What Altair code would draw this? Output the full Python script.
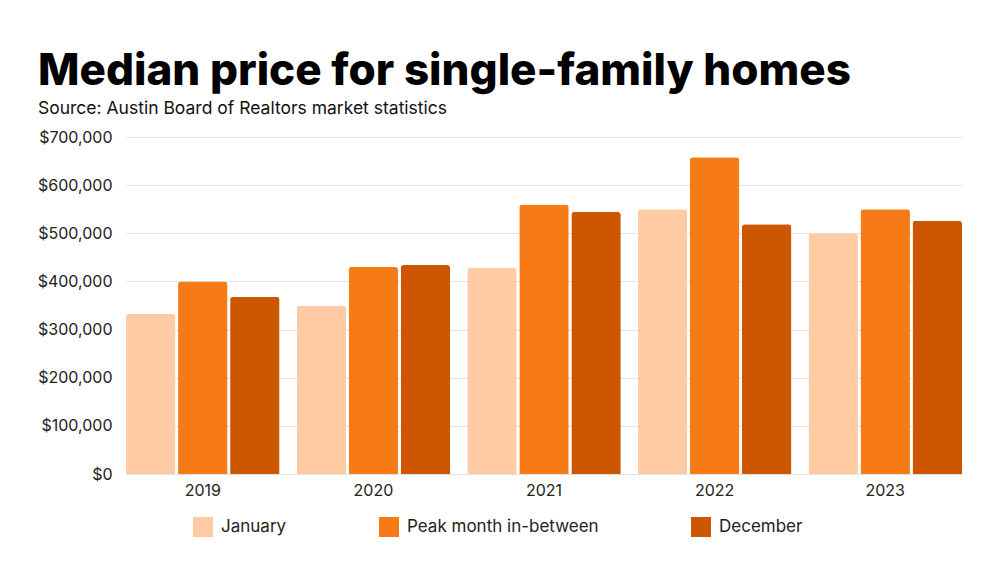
import altair as alt
import pandas as pd

years = ["2019", "2020", "2021", "2022", "2023"]
series = ["January", "Peak month in-between", "December"]
january = [333000, 350000, 428000, 550000, 500000]
peak = [400000, 430000, 560000, 658000, 550000]
december = [368000, 434000, 544000, 519000, 526000]
colors = ["#FFCBA4", "#F67A15", "#CD5700"]

rows = []
for name, vals in zip(series, [january, peak, december]):
    for y, v in zip(years, vals):
        rows.append({"year": y, "series": name, "price": v})
df = pd.DataFrame(rows)

FONT = "Inter"

chart = alt.Chart(df).mark_bar(
    cornerRadiusTopLeft=3, cornerRadiusTopRight=3
).encode(
    x=alt.X("year:N", sort=years, title=None,
            scale=alt.Scale(paddingInner=0.1, paddingOuter=0),
            axis=alt.Axis(labelAngle=0, labelFontSize=16, labelPadding=8,
                          ticks=False, domain=False, grid=False,
                          labelColor="#222222", labelFont=FONT)),
    xOffset=alt.XOffset("series:N", sort=series,
                        scale=alt.Scale(paddingInner=0.05, paddingOuter=0)),
    y=alt.Y("price:Q", title=None,
            scale=alt.Scale(domain=[0, 700000]),
            axis=alt.Axis(values=[0, 100000, 200000, 300000, 400000, 500000, 600000, 700000],
                          format="$,.0f", labelFontSize=16, labelPadding=14,
                          ticks=False, domain=False, gridColor="#E2E2E2",
                          gridWidth=1, labelColor="#222222", labelFont=FONT)),
    color=alt.Color("series:N", sort=series,
                    scale=alt.Scale(domain=series, range=colors),
                    legend=alt.Legend(title=None, orient="none", direction="horizontal",
                                      legendX=67, legendY=380,
                                      symbolType="square", symbolSize=400,
                                      symbolStrokeWidth=0, symbolOpacity=1,
                                      labelFontSize=17, labelOffset=8, labelLimit=400,
                                      labelColor="#222222", labelFont=FONT,
                                      columnPadding=92)),
).properties(
    width=836,
    height=337,
    padding={"left": 118, "top": 129, "right": 30, "bottom": 80},
    autosize=alt.AutoSizeParams(type="none"),
    title=alt.TitleParams(
        text="Median price for single-family homes",
        subtitle="Source: Austin Board of Realtors market statistics",
        anchor="start", frame="group", dx=-88,
        font=FONT, fontSize=44, fontWeight=800, color="#000000",
        subtitleFont=FONT, subtitleFontSize=17.5, subtitleColor="#111111",
        subtitlePadding=6, offset=12,
    ),
).configure_view(stroke=None)

chart.save("out.html", embed_options={"renderer": "svg", "actions": False})
